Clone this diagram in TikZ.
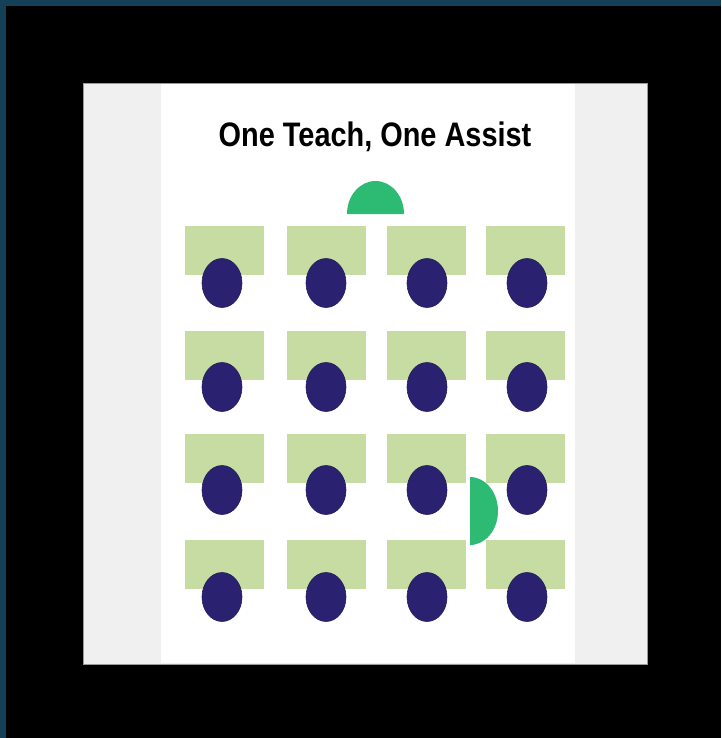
\documentclass[tikz,border=0pt]{standalone}
\usepackage{fontspec}
\setmainfont{Liberation Sans}
\usetikzlibrary{shapes.geometric}
\definecolor{frameteal}{HTML}{133F57}
\definecolor{panelgrey}{HTML}{F0F0F0}
\definecolor{deskgreen}{HTML}{C6DCA3}
\definecolor{pupilblue}{HTML}{2A2270}
\definecolor{teachgreen}{HTML}{2DBB73}
\begin{document}
\begin{tikzpicture}[x=1pt,y=-1pt,
  desk/.style={rectangle, fill=deskgreen, minimum width=79pt, minimum height=49pt, inner sep=0pt},
  pupil/.style={ellipse, fill=pupilblue, draw=pupilblue!80!black, line width=0.6pt, minimum width=40pt, minimum height=49pt, inner sep=0pt},
  title/.style={font=\fontsize{34}{40}\selectfont\bfseries, xscale=0.85, inner sep=0pt}]
\useasboundingbox (0,0) rectangle (721,738);
\fill[black] (0,0) rectangle (721,738);
\fill[frameteal] (0,0) rectangle (721,6);
\fill[frameteal] (0,0) rectangle (6,738);
% panel
\filldraw[fill=panelgrey, draw=gray!80, line width=0.8pt] (83,83) rectangle (647,664);
\fill[white] (161,84) rectangle (575,663);
% title
\node[title, anchor=base] (title) at (375,147) {One Teach, One Assist};
% desks
\foreach \r/\dy in {1/250,2/355.5,3/458,4/564}{
  \foreach \c/\dx in {1/224,2/326,3/426.5,4/525}{
    \node[desk] (desk-\r-\c) at (\dx,\dy) {};
  }
}
% students
\foreach \r/\sy in {1/283,2/387,3/490,4/597}{
  \foreach \c/\sx in {1/222,2/326,3/427,4/527}{
    \node[pupil] (stu-\r-\c) at (\sx,\sy) {};
  }
}
% teachers
\fill[teachgreen] (347,214) arc[start angle=180, end angle=0, x radius=28.5pt, y radius=33pt] -- cycle;
\fill[teachgreen] (470,477) arc[start angle=90, end angle=-90, x radius=28pt, y radius=34pt] -- cycle;
\end{tikzpicture}
\end{document}
